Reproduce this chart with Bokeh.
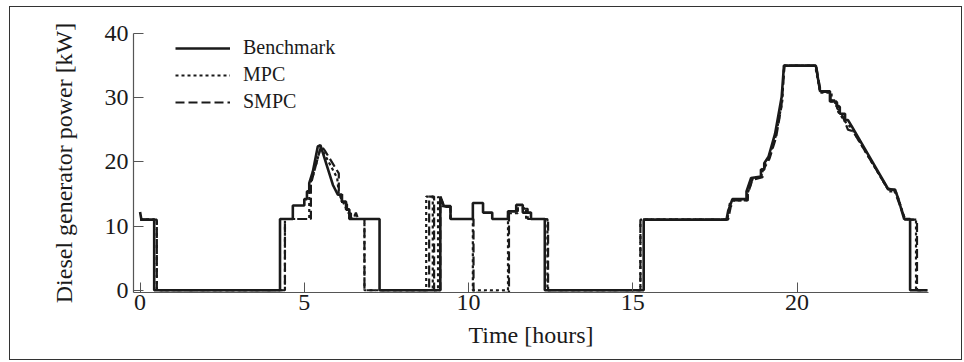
from bokeh.plotting import figure
from bokeh.models import Range1d, Legend, LegendItem
from bokeh.embed import file_html
from bokeh.resources import INLINE

# ---- data (time in hours, diesel generator power in kW) ----
bench_t = [0, 0.04, 0.43, 0.43, 4.26, 4.26, 4.65, 4.65, 5.0, 5.0, 5.08, 5.08, 5.15, 5.15, 5.26, 5.41, 5.49,
           5.87, 6.02, 6.14, 6.14, 6.27, 6.27, 6.37, 6.37, 7.29, 7.29, 9.14, 9.14, 9.25, 9.45, 9.45, 10.13,
           10.13, 10.44, 10.44, 10.72, 10.72, 11.2, 11.2, 11.45, 11.45, 11.65, 11.65, 11.9, 11.9, 12.32, 12.32,
           15.33, 15.33, 17.85, 17.9, 18.03, 18.46, 18.46, 18.6, 18.9, 18.9, 19.0, 19.0, 19.13, 19.33, 19.53,
           19.6, 20.57, 20.7, 21.0, 21.0, 21.2, 21.2, 21.3, 21.3, 21.46, 21.46, 21.55, 21.67, 22.78, 22.98,
           23.09, 23.19, 23.26, 23.44, 23.44, 23.97]
bench_kw = [12.2, 11.0, 11.0, 0, 0, 11.1, 11.1, 13.2, 13.2, 14.2, 14.2, 15.4, 15.4, 16.7, 18.5, 22.4, 22.6,
            16.4, 14.9, 14.9, 13.8, 13.8, 12.6, 12.6, 11.1, 11.1, 0, 0, 14.6, 13.1, 13.1, 11.1, 11.1,
            13.6, 13.6, 12.1, 12.1, 11.1, 11.1, 12.3, 12.3, 13.3, 13.3, 12.1, 12.1, 11.1, 11.1, 0,
            0, 11.0, 11.0, 12.3, 14.2, 14.2, 15.4, 17.5, 17.7, 18.8, 18.8, 19.8, 20.8, 24.4, 30.1,
            35.0, 35.0, 31.0, 31.0, 29.4, 29.4, 28.6, 28.6, 27.5, 27.5, 26.5, 26.5, 25.5, 15.7, 15.7,
            14.1, 12.3, 11.1, 11.1, 0, 0]

mpc_t = [0, 0.51, 0.51, 4.41, 4.41, 5.15, 5.15, 5.3, 5.5, 6.0, 6.05, 6.2, 6.2, 6.35, 6.35, 6.45, 6.55, 6.6,
         6.83, 6.83, 8.71, 8.71, 8.91, 8.91, 9.07, 9.07, 9.2, 9.45, 9.45, 10.13, 10.13, 11.2, 11.2, 11.5,
         11.5, 11.75, 11.75, 12.4, 12.4, 15.23, 15.23, 17.88, 17.95, 18.05, 18.5, 18.5, 18.65, 18.92, 18.92,
         19.02, 19.15, 19.35, 19.55, 19.6, 20.55, 20.7, 21.05, 21.05, 21.25, 21.25, 21.5, 21.65, 22.8, 23.0,
         23.1, 23.2, 23.28, 23.62, 23.62, 23.97]
mpc_kw = [11.0, 11.0, 0, 0, 11.1, 11.1, 16.0, 18.5, 22.3, 17.5, 15.0, 13.5, 13.5, 12.0, 12.0, 11.1, 11.8, 11.1,
          11.1, 0, 0, 14.6, 14.6, 0, 0, 14.6, 13.1, 13.1, 11.1, 11.1, 0, 0, 12.0, 12.0,
          12.8, 12.8, 11.1, 11.1, 0, 0, 11.0, 11.0, 13.5, 14.0, 14.0, 15.2, 17.4, 17.6, 18.7,
          19.6, 20.7, 24.0, 29.5, 35.0, 35.0, 30.8, 30.8, 29.2, 29.2, 27.8, 26.0, 25.3, 15.4, 15.4,
          14.0, 12.4, 11.0, 11.0, 0, 0]

smpc_t = [0, 0.51, 0.51, 4.41, 4.41, 5.2, 5.2, 5.3, 5.51, 5.62, 6.05, 6.05, 6.15, 6.15, 6.3, 6.3, 6.42, 6.42,
          6.5, 6.57, 6.64, 6.83, 6.83, 8.8, 8.8, 8.95, 8.95, 9.14, 9.14, 9.27, 9.45, 9.45, 10.15, 10.15,
          11.23, 11.23, 11.5, 11.5, 11.8, 11.8, 12.42, 12.42, 15.23, 15.23, 17.9, 17.98, 18.08, 18.5, 18.5,
          18.64, 18.95, 18.95, 19.05, 19.16, 19.36, 19.52, 19.62, 20.58, 20.72, 21.02, 21.02, 21.22, 21.22,
          21.32, 21.55, 21.7, 22.75, 22.95, 23.05, 23.18, 23.3, 23.65, 23.65, 23.97]
smpc_kw = [11.0, 11.0, 0, 0, 11.1, 11.1, 16.5, 18.5, 22.5, 21.8, 18.2, 15.5, 15.0, 13.4, 13.4, 12.0, 12.0, 11.1,
           11.1, 12.1, 11.1, 11.1, 0, 0, 14.6, 14.6, 0, 0, 14.4, 13.0, 13.0, 11.1, 11.1, -0.4,
           -0.4, 12.3, 12.3, 12.7, 12.7, 11.1, 11.1, 0, 0, 11.0, 11.0, 13.0, 14.0, 14.0, 15.0,
           17.2, 17.6, 18.6, 19.5, 20.5, 23.8, 28.5, 35.0, 35.0, 30.9, 30.9, 29.6, 29.6, 28.3,
           28.0, 25.0, 24.8, 15.9, 15.6, 14.3, 12.5, 11.0, 11.0, 0, 0]

x_ticks = [0, 5, 10, 15, 20]
y_ticks = [0, 10, 20, 30, 40]

FONT = "Liberation Serif"
INK = "#1a1a1a"

p = figure(width=953, height=354, output_backend="svg", toolbar_location=None,
           x_range=Range1d(-0.2, 24), y_range=Range1d(-0.35, 40),
           min_border_left=123, min_border_right=35, min_border_top=26, min_border_bottom=69,
           styles={"border": "1px solid #333", "box-sizing": "border-box",
                   "margin-left": "9px", "margin-top": "6px"})
p.outline_line_color = None
p.grid.visible = False
p.background_fill_color = "white"
p.border_fill_color = "white"

r_smpc = p.line(smpc_t, smpc_kw, line_color=INK, line_width=2.2, line_dash="9 4")
r_mpc = p.line(mpc_t, mpc_kw, line_color=INK, line_width=2.2, line_dash="3 3")
r_bench = p.line(bench_t, bench_kw, line_color=INK, line_width=2.6)

for ax in (p.xaxis[0], p.yaxis[0]):
    ax.axis_line_color = "#555555"
    ax.axis_line_width = 1.2
    ax.major_tick_line_color = "#555555"
    ax.major_tick_in = 10
    ax.major_tick_out = 0
    ax.minor_tick_line_color = None
    ax.major_label_text_font = FONT
    ax.major_label_text_font_size = "24px"
    ax.major_label_text_color = INK
    ax.axis_label_text_font = FONT
    ax.axis_label_text_font_size = "24px"
    ax.axis_label_text_font_style = "normal"
    ax.axis_label_text_color = INK

p.xaxis.ticker = x_ticks
p.yaxis.ticker = y_ticks
p.xaxis.axis_label = "Time [hours]"
p.yaxis.axis_label = "Diesel generator power [kW]"
p.xaxis.major_label_standoff = 2
p.xaxis.axis_label_standoff = 9
p.yaxis.major_label_standoff = 5
p.yaxis.axis_label_standoff = 25

legend = Legend(items=[LegendItem(label="Benchmark", renderers=[r_bench]),
                       LegendItem(label="MPC", renderers=[r_mpc]),
                       LegendItem(label="SMPC", renderers=[r_smpc])],
                location=(42, 179))
legend.label_text_font = FONT
legend.label_text_font_size = "20px"
legend.label_text_color = INK
legend.glyph_width = 55
legend.glyph_height = 20
legend.label_height = 20
legend.label_standoff = 13
legend.spacing = 4
legend.padding = 0
legend.margin = 0
legend.background_fill_alpha = 0
legend.border_line_alpha = 0
p.add_layout(legend, "center")

open("out.html", "w").write(file_html(p, INLINE))
